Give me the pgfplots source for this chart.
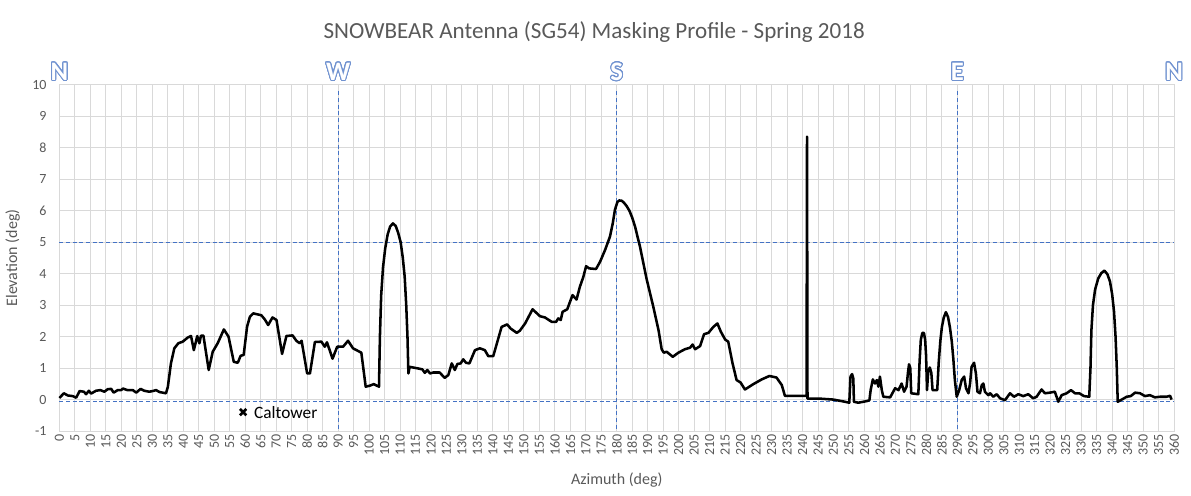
\documentclass[border=0pt]{standalone}
\usepackage{fontspec}
\setmainfont{Carlito}
\usepackage{pgfplots}
\pgfplotsset{compat=1.18}
\usepackage{contour}
\contourlength{0.75pt}
\contournumber{24}
\definecolor{gridgray}{RGB}{217,217,217}
\definecolor{txtgray}{RGB}{89,89,89}
\definecolor{dashblue}{RGB}{68,114,196}
\definecolor{compblue}{RGB}{112,146,208}
\newcommand{\comp}[1]{\contour{compblue}{\textcolor{white}{\fontsize{20}{22}\selectfont\bfseries #1}}}
\begin{document}
\begin{tikzpicture}
\path[use as bounding box] (-44.6pt,-48pt) rectangle (848.6pt,323.25pt);
\begin{axis}[
  scale only axis,
  width=835.9pt, height=259.5pt,
  xmin=0, xmax=360, ymin=-1, ymax=10,
  xtick={0,5,...,360}, ytick={-1,0,...,10},
  grid=major,
  major grid style={draw=gridgray, line width=0.75pt},
  axis line style={draw=gridgray, line width=0.75pt},
  major tick length=0pt,
  tick style={draw=none},
  /pgf/number format/assume math mode=true,
  tick label style={font=\fontsize{10.5}{12}\selectfont, text=txtgray},
  xticklabel style={rotate=90, anchor=east, inner sep=0pt},
  xticklabel shift=2.5pt,
  yticklabel style={anchor=east, inner sep=0pt, xshift=-9.5pt},
  xlabel={Azimuth (deg)},
  ylabel={Elevation (deg)},
  label style={font=\fontsize{12}{14}\selectfont, text=txtgray},
  xlabel style={at={(axis description cs:0.5,-0.1416)}, anchor=center},
  ylabel style={at={(axis description cs:-0.0420,0.5)}, anchor=center},
  clip=false,
]
% reference dashed lines
\addplot[dashblue, line width=0.9pt, dash pattern=on 3pt off 2pt] coordinates {(0,5) (360,5)};
\addplot[dashblue, line width=0.9pt, dash pattern=on 3pt off 2pt] coordinates {(0,-0.05) (360,-0.05)};
\addplot[dashblue, line width=0.9pt, dash pattern=on 3pt off 2pt] coordinates {(90,9.8) (90,-1)};
\addplot[dashblue, line width=0.9pt, dash pattern=on 3pt off 2pt] coordinates {(180,9.8) (180,-1)};
\addplot[dashblue, line width=0.9pt, dash pattern=on 3pt off 2pt] coordinates {(290,9.8) (290,-1)};
% masking profile
\addplot[black, line width=1.9pt, line join=round] coordinates {
(0,0.05) (1.4,0.2) (2.7,0.13) (4.3,0.11) (5.4,0.06) (6.5,0.27) (7.9,0.25) (8.6,0.17) (9.5,0.28) (10.2,0.19)
(11.8,0.28) (13.2,0.3) (14.5,0.25) (15.6,0.33) (16.7,0.34) (17.5,0.22) (18.8,0.3) (19.9,0.3) (20.5,0.35) (22,0.3)
(23.7,0.3) (24.8,0.22) (26.2,0.34) (27.4,0.28) (29,0.25) (30.1,0.27) (31.2,0.3) (32.3,0.24) (34.4,0.2) (35,0.4)
(36,1.15) (37.1,1.63) (38.4,1.79) (39.8,1.84) (41.4,1.97) (42.5,2.02) (43.4,1.57) (44.5,2.02) (45.2,1.79) (45.7,2.03)
(46.5,2.03) (48.2,0.94) (49.5,1.52) (51.1,1.79) (53.1,2.23) (54.6,2.0) (56.3,1.2) (57.6,1.17) (58.5,1.39) (59.5,1.42)
(60.6,2.32) (61.5,2.63) (62.6,2.74) (65.2,2.68) (66.3,2.55) (67.4,2.37) (68.8,2.61) (70.1,2.53) (71.9,1.45) (73.3,2.02)
(75.3,2.04) (76.5,1.87) (77.6,1.79) (78.2,1.87) (80,0.83) (80.9,0.83) (82.5,1.83) (84.6,1.84) (85.7,1.68) (86.4,1.82)
(88.2,1.3) (89.7,1.68) (91.6,1.68) (93.2,1.87) (94.8,1.63) (97.5,1.49) (98.9,0.41) (100.2,0.44) (101.5,0.49) (103.2,0.41)
(103.5,2.0) (103.9,3.3) (104.5,4.2) (105.2,4.8) (106,5.25) (106.8,5.5) (107.7,5.6) (108.6,5.52) (109.4,5.3) (110.2,5.0)
(110.9,4.5) (111.5,3.9) (112,3.0) (112.4,2.0) (112.7,0.83) (113.1,1.04) (114.2,1.02) (115.8,0.99) (117.2,0.96) (118,0.85)
(118.8,0.94) (119.7,0.83) (120.7,0.86) (122.8,0.86) (124.4,0.69) (125.6,0.78) (126.7,1.15) (127.7,0.94) (128.5,1.13) (129.6,1.15)
(130.4,1.28) (131.3,1.17) (132.4,1.15) (134.2,1.57) (135.8,1.63) (137.4,1.57) (138.5,1.38) (140.1,1.38) (142.8,2.31) (144.6,2.39)
(145.7,2.26) (147.7,2.12) (148.7,2.19) (150.4,2.42) (152.8,2.87) (155.2,2.65) (156.8,2.61) (159,2.47) (160.4,2.47) (161.1,2.58)
(161.9,2.53) (162.5,2.79) (164,2.87) (165.7,3.32) (167,3.18) (168.1,3.59) (169.2,3.9) (170.1,4.24) (171.1,4.17) (173.3,4.15)
(174.6,4.38) (176.2,4.75) (177.8,5.18) (178.7,5.6) (179.4,6.03) (180.2,6.28) (180.8,6.33) (181.6,6.32) (182.3,6.26) (183.2,6.15)
(184.1,6.0) (185,5.78) (185.9,5.5) (187.5,4.86) (189.6,3.85) (191.8,2.95) (193.5,2.2) (194.5,1.6) (195.2,1.49) (196.1,1.52)
(198.1,1.36) (199.9,1.49) (202,1.6) (203.7,1.65) (204.5,1.75) (205.3,1.6) (206.9,1.7) (208.2,2.08) (209.6,2.12) (211.2,2.31)
(212.5,2.42) (213.6,2.16) (215,1.91) (216,1.84) (217.4,1.15) (218.7,0.62) (220,0.54) (221.4,0.32) (224.1,0.49) (226.8,0.64)
(229.3,0.75) (231.6,0.7) (233.3,0.46) (234.3,0.12) (241.3,0.12) (241.45,8.36) (241.6,0.03) (245.6,0.03) (249.9,0.0) (253.2,-0.06)
(255.1,-0.1) (255.5,0.73) (256,0.81) (256.4,0.67) (256.6,-0.07) (258,-0.1) (260.7,-0.05) (261.6,-0.02) (262,0.3) (262.7,0.64)
(263.4,0.51) (264,0.62) (264.5,0.41) (265,0.73) (265.6,0.3) (266.1,0.09) (268.3,0.07) (269.9,0.36) (271,0.3) (272,0.51)
(272.8,0.25) (273.6,0.41) (274.1,0.9) (274.4,1.12) (274.8,1.0) (275.1,0.2) (277.4,0.17) (277.8,1.2) (278.2,1.9) (278.7,2.12)
(279.2,2.12) (279.6,1.9) (279.9,1.4) (280.2,0.3) (280.6,0.9) (281.1,1.02) (281.6,0.85) (282,0.3) (283.5,0.3) (284.0,1.2)
(284.5,1.85) (285.0,2.3) (285.6,2.6) (286.3,2.78) (287.0,2.62) (287.6,2.3) (288.2,1.85) (288.7,1.3) (289.2,0.62) (289.8,0.09)
(290.6,0.3) (291.4,0.62) (292.2,0.73) (292.8,0.36) (293.6,0.2) (294.1,0.51) (294.6,1.04) (295.4,1.17) (296,0.83) (296.5,0.25)
(297.3,0.2) (297.9,0.46) (298.4,0.51) (298.9,0.25) (300,0.14) (300.6,0.2) (301.6,0.09) (302.7,0.17) (303.8,0.04) (305.4,-0.02)
(307,0.2) (308.3,0.09) (309.7,0.17) (311.3,0.11) (312.9,0.17) (314.5,0.04) (315.6,0.09) (317.2,0.32) (318.3,0.2) (319.9,0.22)
(321.5,0.25) (322.6,-0.07) (323.7,0.14) (325.3,0.2) (326.7,0.3) (328,0.2) (329.4,0.2) (330.9,0.11) (332.6,0.09) (333.0,1.0)
(333.3,2.2) (333.8,3.0) (334.5,3.5) (335.5,3.85) (336.5,4.02) (337.5,4.1) (338.5,3.98) (339.3,3.75) (340,3.35) (340.6,2.8)
(341.1,2.0) (341.5,1.0) (341.8,-0.07) (343.1,0.0) (344.7,0.09) (346,0.11) (347.4,0.22) (349,0.2) (350.6,0.11) (352.2,0.14)
(353.8,0.07) (355.5,0.09) (357.6,0.09) (358.7,0.12) (359.2,0.0)
};
% Caltower marker
\addplot[only marks, mark=x, mark size=3.4pt, line width=2pt, black,
  nodes near coords, point meta=explicit symbolic,
  nodes near coords style={anchor=west, xshift=4pt, text=black, font=\fontsize{13}{15}\selectfont}]
  coordinates {(59.3,-0.4) [Caltower]};
% compass labels
\node at (axis cs:0,10.41) {\comp{N}};
\node at (axis cs:90,10.41) {\comp{W}};
\node at (axis cs:180,10.41) {\comp{S}};
\node at (axis cs:290,10.41) {\comp{E}};
\node at (axis cs:360,10.41) {\comp{N}};
\end{axis}
\node[text=txtgray, font=\fontsize{17.3}{20}\selectfont] at (401pt,299pt) {SNOWBEAR Antenna (SG54) Masking Profile - Spring 2018};
\end{tikzpicture}
\end{document}
